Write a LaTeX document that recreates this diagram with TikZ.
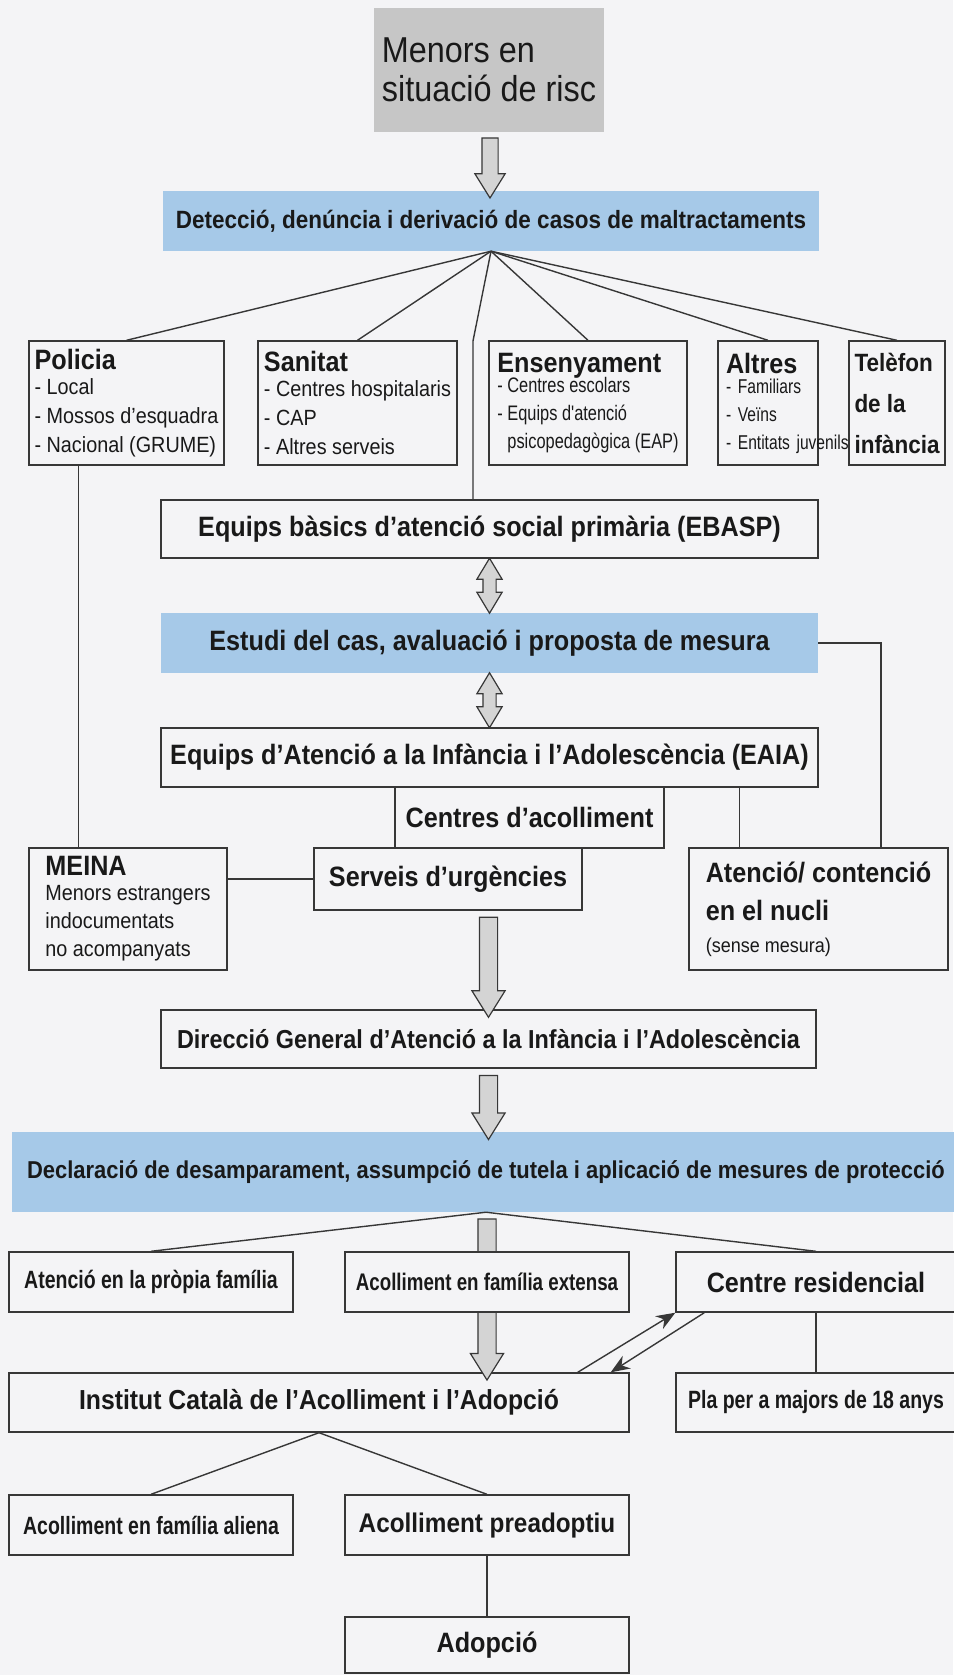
\documentclass[tikz,border=0pt]{standalone}
\usepackage{fontspec}
\setmainfont{Liberation Sans}[FakeStretch=0.9]
\newfontfamily\narrowfont{Liberation Sans}[FakeStretch=0.78]
\usepackage{tikz}
\usetikzlibrary{shapes.arrows, arrows.meta, positioning, calc}
\definecolor{papercolor}{RGB}{244,244,246}
\definecolor{bandcolor}{RGB}{166,201,232}
\definecolor{riskcolor}{RGB}{198,198,198}
\definecolor{linecolor}{RGB}{55,55,55}
\definecolor{arrowcolor}{RGB}{212,212,212}
\definecolor{textcolor}{RGB}{25,25,25}

\begin{document}
\begin{tikzpicture}[
    x=1pt, y=-1pt,
    box/.style={draw=linecolor, line width=1.4pt, fill=papercolor, text=textcolor, inner sep=0pt, font=\bfseries\fontsize{28}{34}\selectfont},
    band/.style={fill=bandcolor, text=textcolor, inner sep=0pt, font=\bfseries\fontsize{25}{30}\selectfont},
    listbox/.style={box, align=left, font=\fontsize{22}{29}\selectfont},
    hollow/.style={single arrow, draw=linecolor, fill=arrowcolor, line width=1.2pt, rotate=-90, inner xsep=0pt, inner ysep=7.5pt, single arrow head extend=7pt, single arrow tip angle=64},
    twoway/.style={double arrow, draw=linecolor, fill=arrowcolor, line width=1.2pt, rotate=-90, inner xsep=0pt, inner ysep=6pt, double arrow head extend=6pt, double arrow tip angle=62},
    link/.style={draw=linecolor, line width=1.4pt},
    pointer/.style={link, -{Stealth[length=19pt, width=15pt]}}
]
    \useasboundingbox (0,0) rectangle (953,1675);
    \fill[papercolor] (0,0) rectangle (953,1675);

    \node[fill=riskcolor, text=textcolor, inner sep=0pt, minimum width=230pt, minimum height=124pt, align=left, font=\fontsize{36}{39}\selectfont] (risc) at (489,70) {Menors en\\situació de risc};
    \node[band, minimum width=656pt, minimum height=60pt] (det) at (491,221) {Detecció, denúncia i derivació de casos de maltractaments};

    \node[listbox, minimum width=195pt, minimum height=124pt] (pol) at (126.5,403) {{\bfseries\fontsize{28}{29}\selectfont Policia}\\[-4pt]- Local\\- Mossos d'esquadra\\- Nacional (GRUME)};
    \node[listbox, minimum width=199pt, minimum height=124pt] (san) at (357.5,403) {{\bfseries\fontsize{28}{29}\selectfont Sanitat}\\[-4pt]- Centres hospitalaris\\- CAP\\- Altres serveis};
    \node[listbox, minimum width=198pt, minimum height=124pt, font=\narrowfont\fontsize{21}{28}\selectfont] (ens) at (588,403) {{\normalfont\bfseries\fontsize{28}{29}\selectfont Ensenyament}\\[-8pt]- Centres escolars\\- Equips d'atenció\\\phantom{- }psicopedagògica (EAP)};
    \node[listbox, text width=84pt, inner xsep=8pt, minimum height=124pt, font=\narrowfont\fontsize{20}{28}\selectfont] (alt) at (768,403) {{\normalfont\bfseries\fontsize{28}{29}\selectfont Altres}\\[-8pt]- Familiars\\- Veïns\\\mbox{- Entitats juvenils}};
    \node[listbox, minimum width=96pt, minimum height=124pt, font=\bfseries\fontsize{25}{41}\selectfont] (tel) at (897,403) {Telèfon\\de la\\infància};

    \node[box, minimum width=657pt, minimum height=58pt] (ebasp) at (489.5,529) {Equips bàsics d'atenció social primària (EBASP)};
    \node[band, minimum width=657pt, minimum height=60pt, font=\bfseries\fontsize{28}{34}\selectfont] (estudi) at (489.5,643) {Estudi del cas, avaluació i proposta de mesura};
    \node[box, minimum width=657pt, minimum height=59pt] (eaia) at (489.5,757.5) {Equips d'Atenció a la Infància i l'Adolescència (EAIA)};
    \node[box, minimum width=269pt, minimum height=61pt] (centres) at (529.5,817.5) {Centres d'acolliment};
    \node[box, minimum width=268pt, minimum height=62pt] (serveis) at (448,879) {Serveis d'urgències};
    \node[listbox, minimum width=198pt, minimum height=122pt, font=\fontsize{22}{28}\selectfont] (meina) at (128,909) {{\bfseries\fontsize{28}{28}\selectfont MEINA}\\[-3pt]Menors estrangers\\indocumentats\\no acompanyats};
    \node[listbox, minimum width=259pt, minimum height=122pt, font=\bfseries\fontsize{28}{38}\selectfont] (aten) at (818.5,909) {Atenció/ contenció\\en el nucli\\[-6pt]{\normalfont\fontsize{20}{24}\selectfont (sense mesura)}};

    \node[box, minimum width=655pt, minimum height=58pt, font=\bfseries\fontsize{26}{32}\selectfont] (direc) at (488.5,1039) {Direcció General d'Atenció a la Infància i l'Adolescència};
    \node[band, minimum width=948pt, minimum height=80pt, font=\bfseries\fontsize{24.4}{30}\selectfont] (decl) at (486,1172) {Declaració de desamparament, assumpció de tutela i aplicació de mesures de protecció};

    \node[box, minimum width=284pt, minimum height=60pt, font=\narrowfont\bfseries\fontsize{25}{30}\selectfont] (aprop) at (151,1282) {Atenció en la pròpia família};
    \node[box, minimum width=280pt, minimum height=60pt] (resid) at (816,1282) {Centre residencial};
    \node[box, minimum width=620pt, minimum height=59pt, font=\bfseries\fontsize{27.5}{32}\selectfont] (inst) at (319,1402.5) {Institut Català de l'Acolliment i l'Adopció};
    \node[box, minimum width=280pt, minimum height=59pt, font=\narrowfont\bfseries\fontsize{25}{30}\selectfont] (pla) at (816,1402.5) {Pla per a majors de 18 anys};
    \node[box, minimum width=284pt, minimum height=60pt, font=\narrowfont\bfseries\fontsize{25}{30}\selectfont] (aliena) at (151,1525) {Acolliment en família aliena};
    \node[box, minimum width=284pt, minimum height=60pt, font=\bfseries\fontsize{27}{32}\selectfont] (preadop) at (487,1525) {Acolliment preadoptiu};
    \node[box, minimum width=284pt, minimum height=56pt] (adop) at (487,1645) {Adopció};

    \node[hollow, minimum height=60pt] (arr1) at ($(risc.south)!0.5!(det.north)$) {};
    \node[twoway, minimum height=55pt] (arr2) at ($(ebasp.south)!0.5!(estudi.north)$) {};
    \node[twoway, minimum height=55pt] (arr3) at ($(estudi.south)!0.5!(eaia.north)$) {};
    \node[hollow, minimum height=100pt, inner ysep=8.5pt, single arrow head extend=7.5pt] (arr4) at ($(serveis.south -| direc.north)!0.5!(direc.north)$) {};
    \node[hollow, minimum height=64pt, inner ysep=8.5pt, single arrow head extend=7.5pt] (arr5) at ($(direc.south)!0.5!(direc.south |- decl.north)$) {};
    \node[hollow, minimum height=161pt, inner ysep=8.5pt, single arrow head extend=7.5pt] (arr6) at ($(decl.south -| preadop.north)!0.5!(inst.north -| preadop.north)$) {};
    \node[box, minimum width=284pt, minimum height=60pt, font=\narrowfont\bfseries\fontsize{24}{30}\selectfont] (extensa) at (487,1282) {Acolliment en família extensa};

    \coordinate (kink) at (473,341);
    \coordinate (ecorner) at (881,643);
    \draw[link] (det.south) -- (pol.north);
    \draw[link] (det.south) -- (san.north);
    \draw[link] (det.south) -- (kink) -- (kink |- ebasp.north);
    \draw[link] (det.south) -- (ens.north);
    \draw[link] (det.south) -- (alt.north);
    \draw[link] (det.south) -- (tel.north);
    \draw[link] ([xshift=50pt]pol.south west) -- ([xshift=50pt]pol.south west |- meina.north);
    \draw[link] (estudi.east) -- (ecorner) -- (ecorner |- aten.north);
    \draw[link] ([xshift=51pt]aten.north west) -- ([xshift=51pt]aten.north west |- eaia.south);
    \draw[link] (meina.east |- serveis.west) -- (serveis.west);
    \draw[link] (decl.south) -- (aprop.north);
    \draw[link] (decl.south) -- (resid.north);
    \draw[pointer] ([xshift=-52pt]inst.north east) -- (resid.south west);
    \draw[pointer] ([xshift=29pt]resid.south west) -- ([xshift=-19pt]inst.north east);
    \draw[link] (resid.south) -- (pla.north);
    \draw[link] (inst.south) -- (aliena.north);
    \draw[link] (inst.south) -- (preadop.north);
    \draw[link] (preadop.south) -- (adop.north);
\end{tikzpicture}
\end{document}
